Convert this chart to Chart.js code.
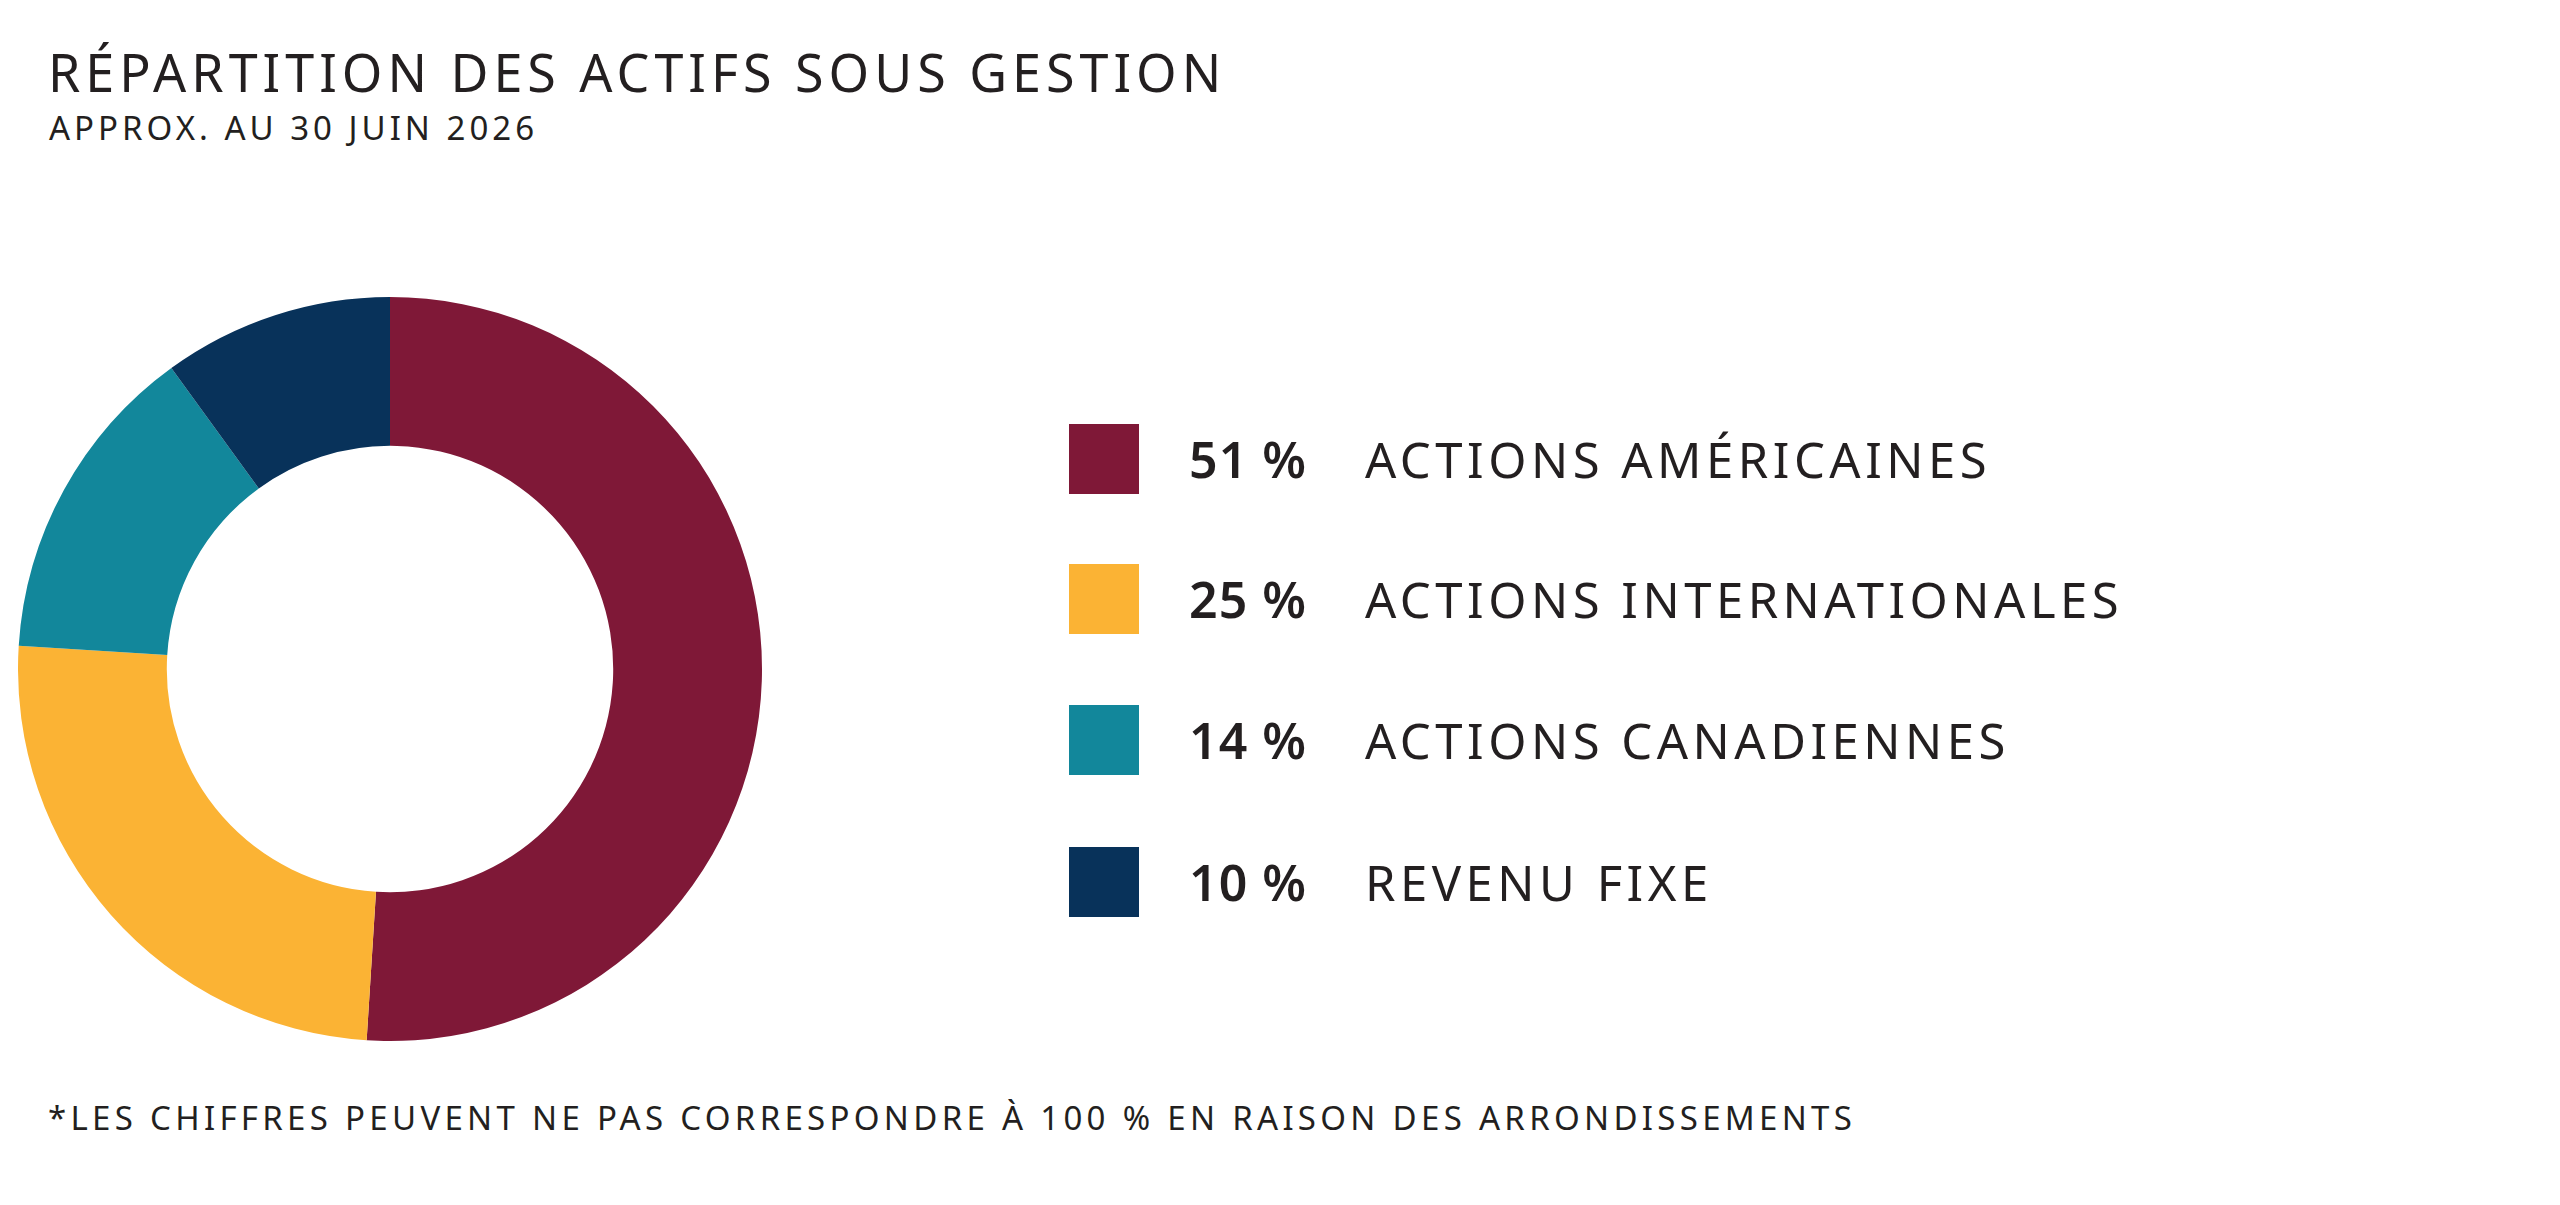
<!DOCTYPE html>
<html><head><meta charset="utf-8">
<script src="https://cdn.jsdelivr.net/npm/chart.js@4"></script>
<style>
body{margin:0;width:2560px;height:1205px;background:#fff;font-family:"Noto Sans",Lato,sans-serif;color:#231f20;position:relative;overflow:hidden}
#title{position:absolute;left:48px;top:36px;font-size:52px;font-weight:400;letter-spacing:5px}
#sub{position:absolute;left:49px;top:105px;font-size:33px;letter-spacing:4px}
#foot{position:absolute;left:48px;top:1095px;font-size:33px;letter-spacing:4.3px}
#wrap{position:absolute;left:18px;top:297px;width:744px;height:744px}
.row{position:absolute;left:1069px;height:70px;display:flex;align-items:center}
.sw{width:70px;height:70px}
.pct{width:168px;text-align:right;font-size:50px;font-weight:600;letter-spacing:1px}
.lab{margin-left:58px;font-size:49px;letter-spacing:4.5px}
</style></head><body>
<div id="title">RÉPARTITION DES ACTIFS SOUS GESTION</div>
<div id="sub">APPROX. AU 30 JUIN 2026</div>
<div id="wrap"><canvas id="c"></canvas></div>
<div id="legend"></div>
<div id="foot">*LES CHIFFRES PEUVENT NE PAS CORRESPONDRE À 100 % EN RAISON DES ARRONDISSEMENTS</div>
<script>
const categories=["ACTIONS AMÉRICAINES","ACTIONS INTERNATIONALES","ACTIONS CANADIENNES","REVENU FIXE"];
const values=[51,25,14,10];
const colors=["#7f1837","#fbb334","#12879b","#08325a"];
const rowTops=[424,564,705,847];
const lg=document.getElementById('legend');
categories.forEach((c,i)=>{
  const r=document.createElement('div');r.className='row';r.style.top=rowTops[i]+'px';
  r.innerHTML=`<div class="sw" style="background:${colors[i]}"></div><div class="pct">${values[i]} %</div><div class="lab">${c}</div>`;
  lg.appendChild(r);
});
new Chart(document.getElementById('c'),{type:'doughnut',
 data:{labels:categories,datasets:[{data:values,backgroundColor:colors,borderWidth:0}]},
 options:{responsive:true,maintainAspectRatio:false,animation:false,cutout:'60%',
  layout:{padding:0},plugins:{legend:{display:false},tooltip:{enabled:false}}}});
</script>
</body></html>
